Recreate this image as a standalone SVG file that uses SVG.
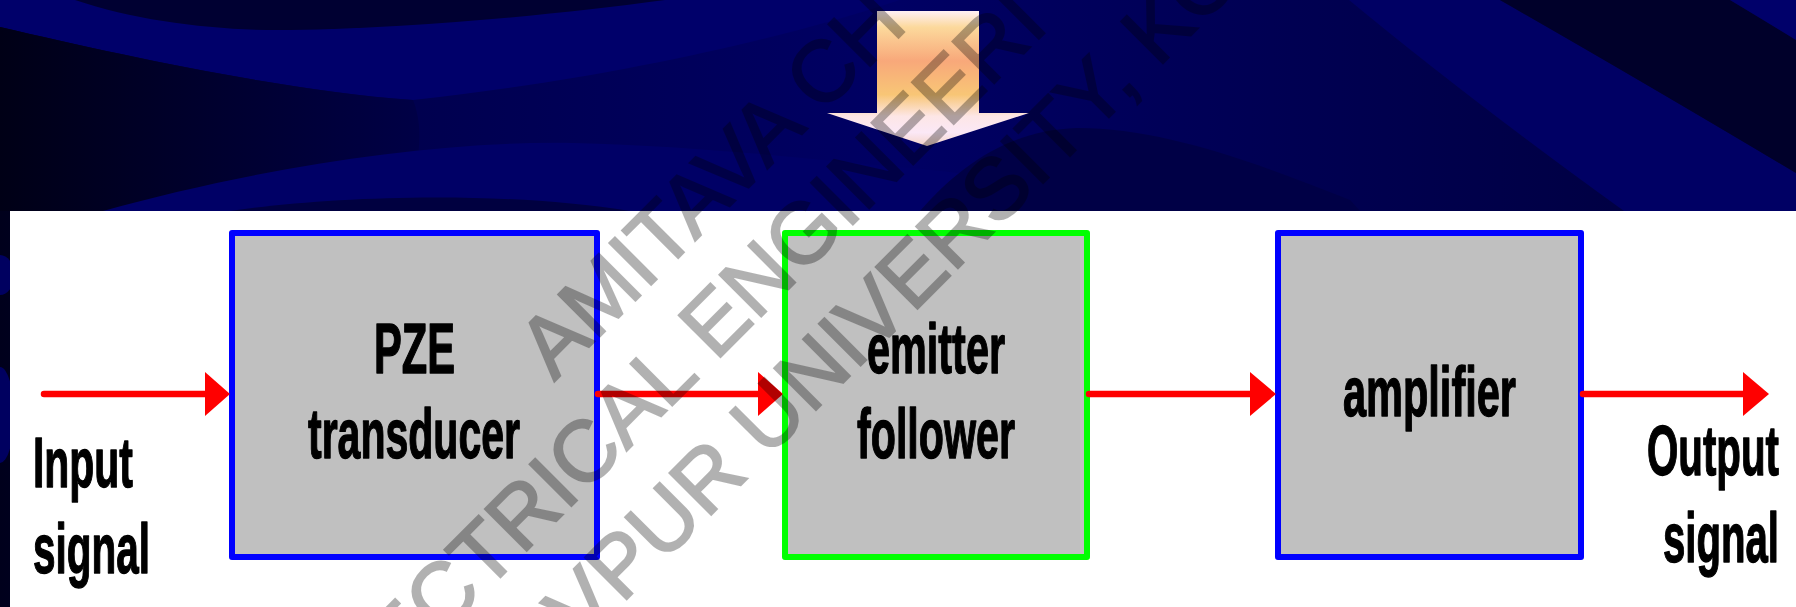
<svg xmlns="http://www.w3.org/2000/svg" width="1796" height="607" viewBox="0 0 1796 607">
  <defs>
    <linearGradient id="navy" x1="0" y1="0" x2="1796" y2="0" gradientUnits="userSpaceOnUse">
      <stop offset="0" stop-color="#00001c"/>
      <stop offset="0.22" stop-color="#00004e"/>
      <stop offset="0.5" stop-color="#000064"/>
      <stop offset="0.72" stop-color="#000052"/>
      <stop offset="1" stop-color="#00003c"/>
    </linearGradient>
    <linearGradient id="leftShade" x1="0" y1="0" x2="420" y2="0" gradientUnits="userSpaceOnUse">
      <stop offset="0" stop-color="#000016"/>
      <stop offset="1" stop-color="#000046"/>
    </linearGradient>
    <linearGradient id="bigArrowFill" x1="0" y1="11" x2="0" y2="146" gradientUnits="userSpaceOnUse">
      <stop offset="0" stop-color="#fff0f6"/>
      <stop offset="0.12" stop-color="#fcd99c"/>
      <stop offset="0.37" stop-color="#f8a87a"/>
      <stop offset="0.62" stop-color="#f8c676"/>
      <stop offset="0.78" stop-color="#fde6e6"/>
      <stop offset="0.9" stop-color="#fbe8f6"/>
      <stop offset="1" stop-color="#f4d4c8"/>
    </linearGradient>
    <style>
      .block { fill: #c0c0c0; stroke-width: 6; stroke-linejoin: round; }
      .blue { stroke: #0000ff; }
      .green { stroke: #00ff00; }
      .wire { stroke: #ff0000; stroke-width: 6.5; stroke-linecap: round; fill: none; }
      .head { fill: #ff0000; }
      .label { font-family: "Liberation Sans Narrow", "Liberation Sans", Arial, sans-serif; font-weight: bold; font-size: 71px; fill: #000000; stroke: #000000; stroke-width: 1.4; stroke-linejoin: round; }
      .mark { font-family: "Liberation Sans", Arial, sans-serif; font-size: 86px; fill: #000000; stroke: #000000; stroke-width: 2; }
    </style>
  </defs>

  <!-- slide background: navy waves -->
  <g id="background">
    <rect x="0" y="0" width="1796" height="607" fill="url(#navy)"/>
    <path d="M0,0 L0,27 C120,55 280,90 413,100 C600,80 780,40 900,0 Z" fill="#00006a"/>
    <path d="M75,0 C140,22 220,31 290,30 C420,28 560,14 665,0 Z" fill="#000032"/>
    <path d="M0,27 C120,55 280,90 413,100 C425,130 420,170 400,211 L0,211 Z" fill="url(#leftShade)"/>
    <path d="M103,211 C250,170 430,140 574,143 C700,146 820,160 900,167 C1000,175 1050,190 1080,211 Z" fill="#000066"/>
    <path d="M230,211 C330,196 500,190 630,211 Z" fill="#000040"/>
    <path d="M920,211 C960,165 1010,130 1077,128 C1160,128 1250,160 1350,200 L1360,211 Z" fill="#000046"/>
    <path d="M1349,0 Q1470,100 1624,211 L1796,211 L1796,173 Q1640,80 1500,0 Z" fill="#000064"/>
    <path d="M1500,0 Q1640,80 1796,173 L1796,40 Q1760,18 1730,0 Z" fill="#00002a"/>
    <path d="M1730,0 Q1760,18 1796,40 L1796,0 Z" fill="#00006a"/>
    <ellipse cx="0" cy="275" rx="14" ry="20" fill="#000060"/>
    <ellipse cx="0" cy="415" rx="14" ry="48" fill="#000060"/>
    <rect x="10" y="211" width="1786" height="396" fill="#ffffff"/>
  </g>

  <!-- downward pointer -->
  <g id="pointer">
    <path d="M877,11 L979,11 L979,113 L1029,113 L927,146 L827,113 L877,113 Z" fill="url(#bigArrowFill)"/>
  </g>

  <!-- signal chain blocks -->
  <g id="node-pze">
    <rect class="block blue" x="232" y="233" width="365" height="324"/>
    <text class="label" x="374" y="373" textLength="81" lengthAdjust="spacingAndGlyphs">PZE</text>
    <text class="label" x="308" y="458" textLength="212" lengthAdjust="spacingAndGlyphs">transducer</text>
  </g>
  <g id="node-emitter-follower">
    <rect class="block green" x="785" y="233" width="302" height="324"/>
    <text class="label" x="867" y="373" textLength="138" lengthAdjust="spacingAndGlyphs">emitter</text>
    <text class="label" x="857" y="458" textLength="158" lengthAdjust="spacingAndGlyphs">follower</text>
  </g>
  <g id="node-amplifier">
    <rect class="block blue" x="1278" y="233" width="303" height="324"/>
    <text class="label" x="1343" y="416" textLength="173" lengthAdjust="spacingAndGlyphs">amplifier</text>
  </g>

  <!-- connectors -->
  <g id="connectors">
    <line class="wire" x1="44" y1="394" x2="208" y2="394"/>
    <polygon class="head" points="205,372 230,394 205,416"/>
    <line class="wire" x1="598" y1="394" x2="761" y2="394"/>
    <polygon class="head" points="758,372 783,394 758,416"/>
    <line class="wire" x1="1089" y1="394" x2="1253" y2="394"/>
    <polygon class="head" points="1250,372 1276,394 1250,416"/>
    <line class="wire" x1="1583" y1="394" x2="1746" y2="394"/>
    <polygon class="head" points="1743,372 1769,394 1743,416"/>
  </g>

  <!-- end labels -->
  <g id="node-input">
    <text class="label" x="33" y="487" textLength="100" lengthAdjust="spacingAndGlyphs">Input</text>
    <text class="label" x="33" y="573" textLength="117" lengthAdjust="spacingAndGlyphs">signal</text>
  </g>
  <g id="node-output">
    <text class="label" x="1647" y="475" textLength="132" lengthAdjust="spacingAndGlyphs">Output</text>
    <text class="label" x="1663" y="562" textLength="116" lengthAdjust="spacingAndGlyphs">signal</text>
  </g>

  <!-- diagonal watermark -->
  <g id="watermark" transform="rotate(-45)" opacity="0.3">
    <text class="mark" x="122" y="662">AMITAVA CH</text>
    <text class="mark" x="-196" y="762">ECTRICAL ENGINEERI</text>
    <text class="mark" x="-45" y="867">VPUR UNIVERSITY, KO</text>
  </g>
</svg>
